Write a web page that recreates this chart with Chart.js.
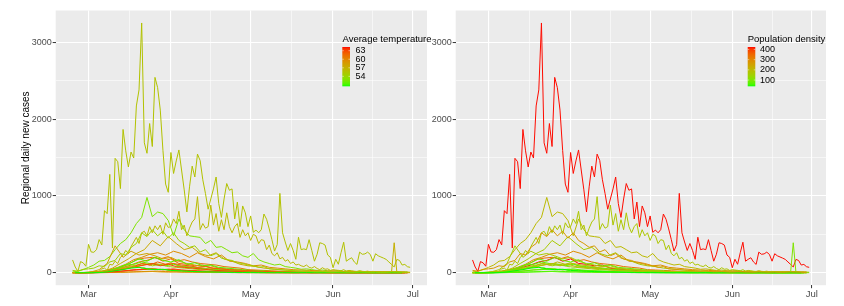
<!DOCTYPE html>
<html>
<head>
<meta charset="utf-8">
<script src="https://cdn.jsdelivr.net/npm/chart.js@4.4.1/dist/chart.umd.min.js"></script>
<style>
  html, body { margin: 0; padding: 0; background: #ffffff; }
  #wrap { position: relative; width: 844px; height: 306px; overflow: hidden; }
  #leftBox { position: absolute; left: 0; top: 0; width: 440px; height: 306px; }
  #rightBox { position: absolute; left: 428px; top: 0; width: 416px; height: 306px; }
</style>
</head>
<body>
<div id="wrap">
  <div id="leftBox"><canvas id="tempChart" width="440" height="306"></canvas></div>
  <div id="rightBox"><canvas id="densChart" width="416" height="306"></canvas></div>
</div>
<script>
"use strict";

/* day index: 0 = 24 Feb 2020 */
var xTickValues = [6, 21.5, 37, 52, 67, 82.5, 98, 113, 128];
var xMonthTicks = [6, 37, 67, 98, 128];
var xMonthLabels = ['Mar', 'Apr', 'May', 'Jun', 'Jul'];
var yTickValues = [0, 500, 1000, 1500, 2000, 2500, 3000];
var yMajorTicks = [0, 1000, 2000, 3000];

/* daily new cases per region (step = days between values) */
var lombardia = [166, 74, 18, 145, 128, 84, 369, 270, 266, 300,
    431, 361, 808, 769, 1280, 322, 1489, 1445, 1095, 1865,
    1587, 1377, 1571, 1493, 2171, 2380, 3251, 1691, 1555, 1942,
    1643, 2543, 2409, 2117, 1592, 1154, 1047, 1565, 1292, 1455,
    1598, 1337, 1079, 791, 1118, 1388, 1246, 1544, 1460, 1210,
    1030, 827, 960, 1091, 1246, 900, 720, 960, 1161, 1073,
    1091, 700, 920, 600, 869, 780, 600, 739, 526, 555,
    520, 560, 764, 696, 570, 430, 282, 366, 1033, 520,
    400, 290, 380, 290, 175, 462, 300, 310, 300, 430,
    290, 150, 240, 390, 380, 360, 230, 200, 65, 175,
    110, 260, 397, 150, 175, 195, 140, 108, 268, 240,
    245, 268, 238, 150, 247, 220, 205, 190, 173, 140,
    108, 75, 173, 160, 100, 108, 78, 70];
var piemonte = [0, 0, 1, 0, 2, 0, 2, 4, 5, 9,
    20, 50, 60, 30, 110, 100, 150, 120, 200, 230,
    290, 250, 340, 400, 460, 380, 520, 540, 480, 600,
    520, 610, 560, 620, 500, 650, 590, 600, 700, 640,
    800, 560, 620, 480, 580, 660, 700, 990, 560, 640,
    580, 600, 880, 620, 770, 540, 690, 560, 780, 600,
    520, 600, 640, 460, 560, 480, 520, 420, 500, 480,
    380, 430, 420, 300, 360, 250, 220, 260, 180, 200,
    150, 170, 120, 140, 100, 110, 90, 80, 100, 70,
    60, 80, 55, 40, 65, 45, 50, 30, 40, 35,
    30, 25, 40, 20, 30, 25, 20, 15, 25, 18,
    15, 20, 12, 18, 10, 15, 12, 10, 14, 8,
    10, 12, 8, 10, 9, 7, 8, 6];
var umbria = [0, 0, 0, 0, 0, 0, 0, 1, 2, 3,
    5, 8, 10, 15, 20, 30, 40, 35, 50, 60,
    55, 70, 65, 80, 70, 75, 60, 65, 50, 55,
    45, 50, 40, 45, 35, 40, 30, 35, 25, 28,
    22, 25, 18, 20, 15, 18, 12, 14, 10, 12,
    8, 10, 6, 8, 5, 6, 4, 5, 3, 4,
    2, 3, 2, 1, 2, 1, 0, 1, 2, 0,
    1, 0, 1, 0, 2, 1, 0, 1, 0, 1,
    0, 1, 0, 0, 1, 0, 2, 0, 1, 0,
    0, 1, 0, 1, 0, 0, 1, 0, 0, 1,
    0, 0, 1, 0, 2, 0, 1, 0, 0, 1,
    0, 1, 0, 0, 2, 0, 1, 0, 1, 3,
    5, 390, 8, 2, 1, 3, 0, 1];
var emiliaRomagna = [10, 20, 40, 70, 100, 150, 160, 210, 300, 380,
    430, 520, 640, 720, 980, 730, 790, 770, 680, 480,
    700, 560, 480, 470, 460, 380, 420, 330, 340, 300,
    260, 270, 220, 200, 250, 170, 140, 120, 100, 110,
    80, 70, 60, 45, 50, 40, 30, 35, 25, 20,
    30, 18, 22, 15, 20, 12, 15, 10, 14, 12,
    10, 15, 8, 10];
var veneto = [30, 20, 45, 50, 60, 90, 80, 140, 160, 250,
    230, 330, 380, 520, 470, 560, 480, 540, 450, 520,
    420, 380, 330, 350, 270, 300, 220, 250, 190, 170,
    160, 130, 120, 100, 90, 70, 80, 50, 45, 40,
    35, 30, 25, 20, 25, 15, 12, 15, 10, 8,
    12, 10, 8, 6, 10, 8, 6, 8, 5, 6,
    10, 8, 6, 5];
var toscana = [0, 2, 5, 10, 20, 60, 120, 180, 250, 300, 420, 350, 470, 380, 300, 330, 250, 220, 260, 180,
    150, 110, 90, 80, 60, 50, 40, 30, 25, 20, 15, 12, 10, 8, 6, 8, 5, 4, 6, 3, 4, 2, 3];
var marche = [0, 2, 10, 40, 120, 350, 200, 280, 230, 250, 220, 180, 200, 150, 120, 100, 80, 90, 60, 50,
    40, 30, 25, 20, 15, 10, 12, 8, 6, 5, 4, 3, 2, 3, 1, 2, 1, 0, 1, 0, 1, 0];
var liguria = [0, 0, 10, 20, 40, 70, 110, 170, 200, 240, 260, 230, 280, 250, 200, 260, 210, 180, 230, 150,
    140, 120, 90, 100, 70, 60, 50, 40, 35, 30, 25, 20, 25, 15, 18, 12, 10, 15, 8, 10, 6, 8];
var lazio = [0, 0, 2, 5, 20, 40, 70, 110, 170, 190, 200, 180, 210, 150, 170, 140, 120, 110, 100, 80,
    70, 60, 40, 35, 30, 25, 20, 15, 12, 10, 8, 10, 6, 5, 8, 4, 10, 6, 12, 8, 10, 6, 5];
var campania = [0, 0, 5, 10, 20, 40, 70, 100, 140, 160, 200, 150, 180, 120, 110, 90, 100, 60, 50, 40,
    30, 20, 15, 10, 12, 8, 5, 6, 4, 3, 5, 2, 3, 2, 1, 3, 2, 1, 2, 5, 8, 3];
var puglia = [0, 1, 2, 10, 20, 35, 60, 80, 120, 100, 140, 110, 120, 100, 90, 70, 80, 60, 50, 40,
    35, 30, 25, 20, 15, 12, 10, 8, 6, 5, 4, 3, 2, 3, 2, 1, 2, 1, 0, 1, 0, 1];
var sicilia = [0, 0, 3, 5, 15, 25, 40, 60, 80, 100, 120, 90, 110, 80, 70, 60, 50, 40, 30, 25,
    20, 15, 10, 8, 6, 5, 4, 3, 2, 2, 1, 2, 1, 0, 1, 0, 1, 0, 2, 1, 0, 1, 0];
var trento = [0, 0, 2, 8, 20, 50, 90, 130, 180, 150, 200, 160, 140, 170, 110, 130, 90, 100, 70, 60,
    50, 40, 30, 25, 20, 15, 10, 8, 6, 5, 4, 3, 2, 3, 2, 1, 2, 1, 0, 1, 0, 1];
var bolzano = [0, 0, 1, 10, 30, 60, 100, 110, 140, 120, 100, 90, 110, 80, 70, 60, 50, 40, 35, 30,
    20, 18, 15, 10, 8, 6, 5, 4, 3, 2, 2, 1, 1, 0, 1, 0, 1, 0, 1, 0, 1, 0];
var friuli = [0, 0, 5, 15, 25, 40, 60, 80, 100, 120, 90, 110, 80, 70, 60, 50, 40, 35, 30, 25,
    20, 15, 12, 10, 8, 6, 5, 4, 3, 2, 3, 2, 1, 2, 1, 0, 2, 1, 0, 1, 0, 1, 0];
var abruzzo = [0, 0, 1, 5, 15, 30, 50, 70, 90, 110, 120, 100, 130, 90, 80, 70, 60, 50, 40, 30,
    25, 20, 15, 12, 10, 8, 6, 5, 4, 3, 2, 3, 1, 2, 1, 0, 1, 0, 1, 0, 1, 0];
var sardegna = [0, 0, 1, 3, 8, 15, 25, 35, 40, 50, 45, 40, 50, 35, 30, 25, 20, 15, 12, 10,
    8, 5, 4, 3, 2, 2, 1, 1, 0, 1, 0, 1, 0, 0, 1, 0, 0, 1, 0, 0, 1, 0];
var calabria = [0, 0, 1, 2, 5, 10, 20, 30, 40, 45, 50, 40, 45, 35, 30, 25, 20, 15, 10, 8,
    6, 5, 4, 3, 2, 2, 1, 1, 0, 1, 0, 1, 0, 0, 1, 0, 0, 1, 0, 0, 1, 0, 0];
var valleAosta = [0, 0, 0, 2, 10, 25, 40, 60, 70, 50, 40, 45, 30, 25, 20, 15, 12, 10, 8, 5,
    4, 3, 2, 1, 1, 0, 1, 0, 0, 1, 0, 0, 1, 0, 0, 0, 1, 0, 0, 0, 0, 0];
var basilicata = [0, 0, 0, 1, 3, 5, 8, 12, 15, 18, 20, 15, 12, 10, 12, 8, 6, 5, 4, 3,
    2, 2, 1, 1, 0, 1, 0, 0, 1, 0, 0, 0, 1, 0, 0, 0, 1, 0, 0, 0, 0, 0];
var molise = [0, 0, 0, 1, 2, 3, 5, 8, 10, 12, 15, 10, 8, 10, 6, 5, 4, 3, 2, 3,
    2, 1, 1, 2, 1, 0, 1, 0, 0, 1, 0, 0, 0, 1, 0, 0, 0, 1, 0, 0, 0, 0, 0];

/* regions in drawing order (alphabetical, later drawn on top) */
var regionNames = ['Abruzzo', 'Basilicata', 'Calabria', 'Campania', 'Emilia-Romagna', 'Friuli Venezia Giulia',
    'Lazio', 'Liguria', 'Lombardia', 'Marche', 'Molise', 'P.A. Bolzano', 'P.A. Trento', 'Piemonte',
    'Puglia', 'Sardegna', 'Sicilia', 'Toscana', 'Umbria', "Valle d'Aosta", 'Veneto'];
var regionValues = [abruzzo, basilicata, calabria, campania, emiliaRomagna, friuli,
    lazio, liguria, lombardia, marche, molise, bolzano, trento, piemonte,
    puglia, sardegna, sicilia, toscana, umbria, valleAosta, veneto];
var regionStart = [1, 2, 0, 1, 0, 0, 0, 2, 0, 1, 0, 2, 1, 0, 2, 2, 0, 0, 0, 1, 0];
var regionStep = [3, 3, 3, 3, 2, 3, 3, 3, 1, 3, 3, 3, 3, 1, 3, 3, 3, 3, 1, 3, 2];
var regionTemp = [58.5, 60, 64.3, 61.5, 52.8, 55, 61, 59.5, 55.6, 58, 59, 52, 51.5, 56.2,
    62, 63, 63, 57.5, 57, 50.5, 54.5];
var regionDensity = [122, 56, 126, 424, 199, 154, 340, 287, 422, 163, 68, 72, 87, 172,
    206, 68, 194, 162, 104, 39, 267];

var tempBreaks = [54, 57, 60, 63];
var densityBreaks = [100, 200, 300, 400];

var FONT = '"Liberation Sans", Arial, Helvetica, sans-serif';

/* green -> red gradient interpolated in Lab, like ggplot's colour ramp */
function toLinear(c) { c /= 255; return c <= 0.04045 ? c / 12.92 : Math.pow((c + 0.055) / 1.055, 2.4); }
function fromLinear(c) { return c <= 0.0031308 ? 12.92 * c : 1.055 * Math.pow(c, 1 / 2.4) - 0.055; }
function rgbToLab(rgb) {
    var r = toLinear(rgb[0]), g = toLinear(rgb[1]), b = toLinear(rgb[2]);
    var X = (0.4124 * r + 0.3576 * g + 0.1805 * b) / 0.95047;
    var Y = 0.2126 * r + 0.7152 * g + 0.0722 * b;
    var Z = (0.0193 * r + 0.1192 * g + 0.9505 * b) / 1.08883;
    var f = function (t) { return t > 0.008856 ? Math.cbrt(t) : 7.787 * t + 16 / 116; };
    var fx = f(X), fy = f(Y), fz = f(Z);
    return [116 * fy - 16, 500 * (fx - fy), 200 * (fy - fz)];
}
function labToRgb(lab) {
    var fy = (lab[0] + 16) / 116, fx = fy + lab[1] / 500, fz = fy - lab[2] / 200;
    var inv = function (t) { return t * t * t > 0.008856 ? t * t * t : (t - 16 / 116) / 7.787; };
    var X = inv(fx) * 0.95047, Y = inv(fy), Z = inv(fz) * 1.08883;
    var r = 3.2406 * X - 1.5372 * Y - 0.4986 * Z;
    var g = -0.9689 * X + 1.8758 * Y + 0.0415 * Z;
    var b = 0.0557 * X - 0.2040 * Y + 1.0570 * Z;
    return [r, g, b].map(function (c) {
        return Math.round(255 * Math.min(1, Math.max(0, fromLinear(c))));
    });
}
var labLow = rgbToLab([0, 255, 0]);
var labHigh = rgbToLab([255, 0, 0]);
function rampColour(v, lo, hi) {
    var t = Math.min(1, Math.max(0, (v - lo) / (hi - lo)));
    var lab = [0, 1, 2].map(function (k) { return labLow[k] + (labHigh[k] - labLow[k]) * t; });
    return 'rgb(' + labToRgb(lab).join(',') + ')';
}

function buildDatasets(colourValues) {
    var lo = Math.min.apply(null, colourValues);
    var hi = Math.max.apply(null, colourValues);
    var sets = regionNames.map(function (name, i) {
        return {
            label: name,
            data: regionValues[i].map(function (v, k) {
                return { x: regionStart[i] + k * regionStep[i], y: v };
            }),
            borderColor: rampColour(colourValues[i], lo, hi),
            borderWidth: 1,
            pointRadius: 0,
            tension: 0,
            fill: false
        };
    });
    return sets.reverse(); // first dataset is drawn on top in Chart.js
}

var panelBackground = {
    id: 'panelBackground',
    beforeDraw: function (chart) {
        var a = chart.chartArea;
        chart.ctx.save();
        chart.ctx.fillStyle = '#EBEBEB';
        chart.ctx.fillRect(a.left, a.top, a.right - a.left, a.bottom - a.top);
        chart.ctx.restore();
    }
};

function colourLegend(cfg) {
    return {
        id: 'colourLegend',
        afterDraw: function (chart) {
            var ctx = chart.ctx;
            ctx.save();
            ctx.fillStyle = '#000000';
            ctx.font = '9.5px ' + FONT;
            ctx.textAlign = 'left';
            ctx.textBaseline = 'alphabetic';
            ctx.fillText(cfg.title, cfg.titleX, cfg.titleY);

            var grad = ctx.createLinearGradient(0, cfg.barY + cfg.barH, 0, cfg.barY);
            for (var k = 0; k <= 40; k++) {
                grad.addColorStop(k / 40, rampColour(cfg.lo + (cfg.hi - cfg.lo) * k / 40, cfg.lo, cfg.hi));
            }
            ctx.fillStyle = grad;
            ctx.fillRect(cfg.barX, cfg.barY, cfg.barW, cfg.barH);

            ctx.font = '9px ' + FONT;
            ctx.textBaseline = 'middle';
            ctx.strokeStyle = 'rgba(255,255,255,0.8)';
            ctx.lineWidth = 0.6;
            cfg.breaks.forEach(function (b) {
                var y = cfg.barY + (cfg.hi - b) / (cfg.hi - cfg.lo) * cfg.barH;
                ctx.beginPath();
                ctx.moveTo(cfg.barX, y);
                ctx.lineTo(cfg.barX + cfg.barW * 0.2, y);
                ctx.moveTo(cfg.barX + cfg.barW * 0.8, y);
                ctx.lineTo(cfg.barX + cfg.barW, y);
                ctx.stroke();
                ctx.fillStyle = '#000000';
                ctx.fillText(String(b), cfg.labelX, y);
            });
            ctx.restore();
        }
    };
}

function makeConfig(colourValues, axisWidth, padRight, showTitle, legendCfg) {
    return {
        type: 'line',
        data: { datasets: buildDatasets(colourValues) },
        options: {
            responsive: false,
            animation: false,
            events: [],
            layout: { padding: { left: 0, right: padRight, top: 10.5, bottom: 0 } },
            plugins: { legend: { display: false }, tooltip: { enabled: false } },
            scales: {
                x: {
                    type: 'linear',
                    min: -6.35,
                    max: 133.35,
                    afterBuildTicks: function (scale) {
                        scale.ticks = xTickValues.map(function (v) { return { value: v }; });
                    },
                    afterFit: function (scale) { scale.height = 20.8; },
                    border: { display: false },
                    grid: {
                        color: '#FFFFFF',
                        lineWidth: function (c) { return c.tick && xMonthTicks.indexOf(c.tick.value) >= 0 ? 1.1 : 0.55; },
                        tickColor: function (c) { return c.tick && xMonthTicks.indexOf(c.tick.value) >= 0 ? '#333333' : 'rgba(0,0,0,0)'; },
                        tickLength: 3,
                        tickWidth: 1
                    },
                    ticks: {
                        autoSkip: false,
                        maxRotation: 0,
                        padding: 0,
                        color: '#4D4D4D',
                        font: { family: FONT, size: 9.5 },
                        callback: function (v) {
                            var k = xMonthTicks.indexOf(v);
                            return k >= 0 ? xMonthLabels[k] : '';
                        }
                    }
                },
                y: {
                    type: 'linear',
                    min: -162.5,
                    max: 3413.5,
                    afterBuildTicks: function (scale) {
                        scale.ticks = yTickValues.map(function (v) { return { value: v }; });
                    },
                    afterFit: function (scale) { scale.width = axisWidth; },
                    border: { display: false },
                    grid: {
                        color: '#FFFFFF',
                        lineWidth: function (c) { return c.tick && yMajorTicks.indexOf(c.tick.value) >= 0 ? 1.1 : 0.55; },
                        tickColor: function (c) { return c.tick && yMajorTicks.indexOf(c.tick.value) >= 0 ? '#333333' : 'rgba(0,0,0,0)'; },
                        tickLength: 3,
                        tickWidth: 1
                    },
                    ticks: {
                        autoSkip: false,
                        padding: 1,
                        color: '#4D4D4D',
                        font: { family: FONT, size: 9 },
                        callback: function (v) { return yMajorTicks.indexOf(v) >= 0 ? String(v) : ''; }
                    },
                    title: {
                        display: showTitle,
                        text: 'Regional daily new cases',
                        color: '#000000',
                        font: { family: FONT, size: 10 },
                        padding: { top: 20, bottom: 0 }
                    }
                }
            }
        },
        plugins: [panelBackground, colourLegend(legendCfg)]
    };
}

document.addEventListener('DOMContentLoaded', function () {
    var tLo = Math.min.apply(null, regionTemp), tHi = Math.max.apply(null, regionTemp);
    var dLo = Math.min.apply(null, regionDensity), dHi = Math.max.apply(null, regionDensity);

    new Chart(document.getElementById('tempChart'), makeConfig(regionTemp, 55.7, 13, true, {
        title: 'Average temperature', titleX: 342.5, titleY: 41.5,
        barX: 342.3, barY: 47, barW: 7.7, barH: 39.3, labelX: 355.5,
        lo: tLo, hi: tHi, breaks: tempBreaks
    }));

    new Chart(document.getElementById('densChart'), makeConfig(regionDensity, 27.7, 18, false, {
        title: 'Population density', titleX: 319.7, titleY: 41.5,
        barX: 319.7, barY: 47, barW: 7.6, barH: 39.3, labelX: 332,
        lo: dLo, hi: dHi, breaks: densityBreaks
    }));
});
</script>
</body>
</html>
